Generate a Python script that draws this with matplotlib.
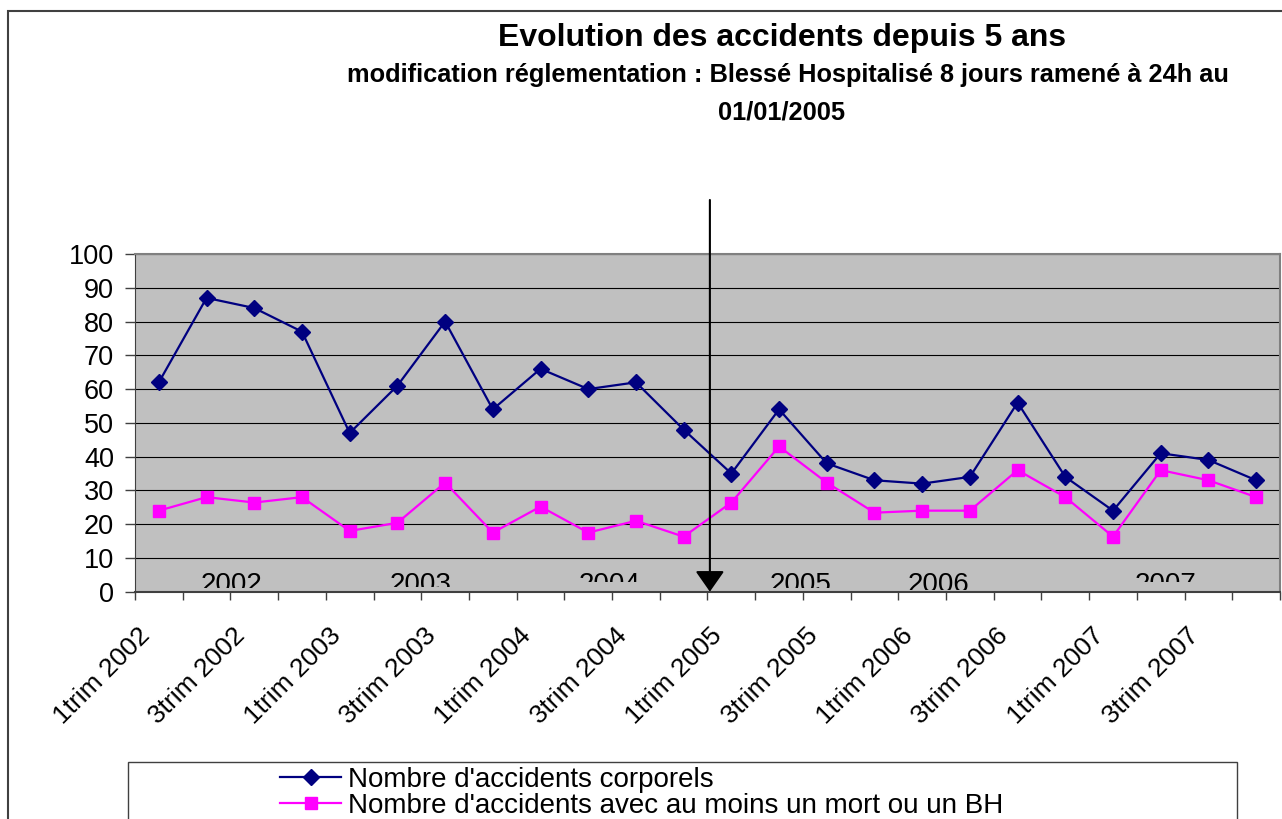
import matplotlib
matplotlib.use("Agg")
import matplotlib.pyplot as plt
from matplotlib.patches import Rectangle
from matplotlib.transforms import ScaledTranslation

plt.rcParams['font.family'] = ['Liberation Sans', 'DejaVu Sans']

# data
quarters = []
for year in range(2002, 2008):
    for q in range(1, 5):
        quarters.append(f"{q}trim {year}")

corporels = [62, 87, 84, 77, 47, 61, 80, 54, 66, 60, 62, 48,
             35, 54, 38, 33, 32, 34, 56, 34, 24, 41, 39, 33]
mort_bh = [24, 28, 26.4, 28, 18, 20.4, 32.3, 17.5, 25.2, 17.5, 21, 16.3,
           26.4, 43, 32.3, 23.4, 24, 24, 36, 28, 16.3, 36, 33, 28]

years = ['2002', '2003', '2004', '2005', '2006', '2007']
year_pos = [1.52, 5.48, 9.44, 13.46, 16.35, 21.1]
year_clip = [1.1, 1.4, 2.9, 1.1, 0.5, 2.9]

change_pos = 11.55  # 01/01/2005

W, H = 1282, 819
fig = plt.figure(figsize=(W / 100, H / 100), dpi=100)
ax = fig.add_axes([135 / W, 1 - 591.7 / H, (1280 - 135) / W, (591.7 - 254) / H])
ax.set_facecolor('#C0C0C0')

x = list(range(len(quarters)))
ax.plot(x, corporels, color='#000080', lw=1.6, marker='D', ms=8,
        label="Nombre d'accidents corporels", zorder=3)
ax.plot(x, mort_bh, color='#FF00FF', lw=1.6, marker='s', ms=9,
        label="Nombre d'accidents avec au moins un mort ou un BH", zorder=3)

ax.set_xlim(-0.5, len(quarters) - 0.5)
ax.set_ylim(0, 100)
ax.set_yticks(range(0, 101, 10))
ax.yaxis.grid(True, color='black', lw=0.8)
ax.set_axisbelow(True)
ax.tick_params(axis='y', labelsize=19.5, length=7, width=1, pad=8, color='#404040')

# category boundaries carry the tick marks, labels every other quarter
ax.set_xticks([i - 0.5 for i in range(len(quarters) + 1)])
ax.tick_params(axis='x', length=6, width=1, color='#404040', labelbottom=False)
offset = ScaledTranslation(-13 / 100, -40 / 100, fig.dpi_scale_trans)
for i in x[::2]:
    ax.text(i, 0, quarters[i], transform=ax.transData + offset,
            rotation=45, rotation_mode='anchor', ha='right', va='center',
            fontsize=19)

for side in ['top', 'right']:
    ax.spines[side].set_color('#808080')
    ax.spines[side].set_linewidth(1.5)
ax.spines['left'].set_color('#404040')
ax.spines['bottom'].set_color('#404040')
ax.spines['bottom'].set_linewidth(1.5)

# year labels, cut at the bottom like in the original
for yr, xp, cb in zip(years, year_pos, year_clip):
    t = ax.text(xp, 5.8, yr, ha='center', va='top', fontsize=20, clip_on=True)
    clip = Rectangle((xp - 2, cb), 4, 10, transform=ax.transData)
    t.set_clip_path(clip)

# arrow marking the rule change
ax.annotate('', xy=(change_pos, 0), xytext=(change_pos, 116),
            arrowprops=dict(arrowstyle='-|>,head_length=0.4,head_width=0.28',
                            color='black', lw=1.5, mutation_scale=32,
                            shrinkA=0, shrinkB=0),
            annotation_clip=False, zorder=5)

# titles
fig.text(782 / W, 1 - 38 / H, "Evolution des accidents depuis 5 ans",
         ha='center', va='center', fontsize=23, fontweight='bold')
fig.text(788 / W, 1 - 75 / H,
         "modification réglementation : Blessé Hospitalisé 8 jours ramené à 24h au",
         ha='center', va='center', fontsize=18.3, fontweight='bold')
fig.text(782 / W, 1 - 113 / H, "01/01/2005",
         ha='center', va='center', fontsize=18.3, fontweight='bold')

# outer frame and legend box
fig.add_artist(Rectangle((8 / W, -0.1), 1.2, 1.1 - 11 / H, transform=fig.transFigure,
                         fill=False, ec='#404040', lw=1.5))
fig.add_artist(Rectangle((128 / W, -0.1), (1237 - 128) / W, 0.1 + 1 - 762 / H,
                         transform=fig.transFigure, fill=False, ec='#404040', lw=1))
fig.legend(loc='upper left', bbox_to_anchor=(280 / W, 1 - 767 / H),
           frameon=False, fontsize=20, handlelength=2.2, handletextpad=0.25,
           labelspacing=0.0, borderpad=0, borderaxespad=0)

fig.savefig('out.png', dpi=100)
